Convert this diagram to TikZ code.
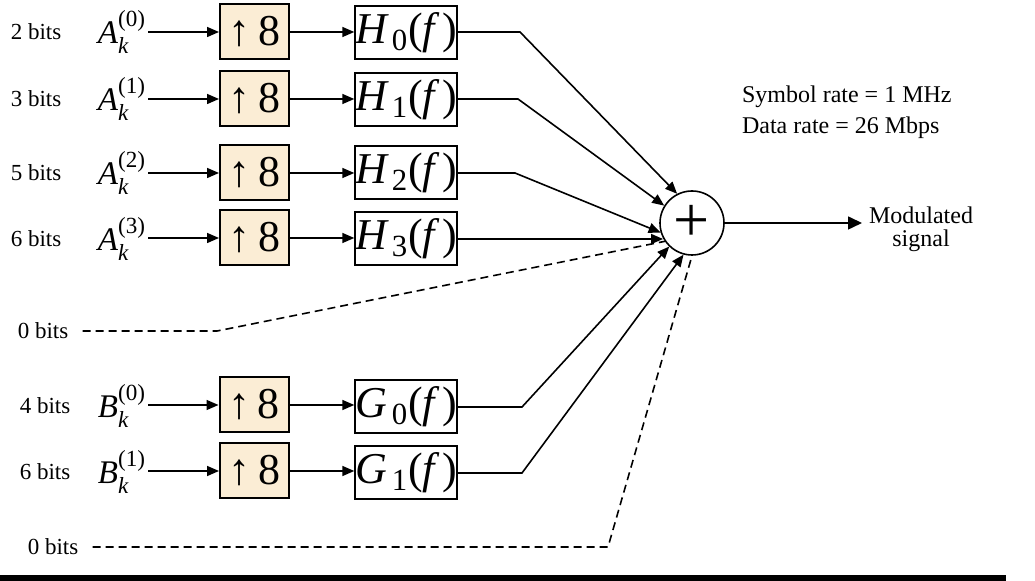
\documentclass[tikz,border=0pt]{standalone}
\usepackage{amsmath}
\usepackage{fontspec}
\setmainfont{Liberation Serif}
\usetikzlibrary{arrows.meta}

\definecolor{upfill}{RGB}{251,237,213}
\tikzset{
  bitslbl/.style={font=\fontsize{11.5}{13}\selectfont, inner sep=1pt},
  symlbl/.style={font=\fontsize{16.5}{18}\selectfont, inner sep=1pt},
  upbox/.style={draw, line width=1pt, fill=upfill, minimum width=34.5pt, minimum height=27.5pt, inner sep=0pt, font=\fontsize{22}{22}\selectfont},
  filtbox/.style={draw, line width=1pt, minimum width=49pt, minimum height=26.5pt, inner sep=0pt, font=\fontsize{22}{22}\selectfont},
  sig/.style={line width=0.8pt, -{Triangle[length=6pt,width=5pt]}},
  wire/.style={line width=0.8pt},
  nobits/.style={line width=0.8pt, dash pattern=on 4pt off 2.5pt},
}
\newcommand{\insym}[2]{$\textit{#1}_{\textit{k}}^{\textup{(#2)}}$}
\newcommand{\filt}[2]{$\textit{#1}_{\,\textup{#2}}\textup{(}\textit{f}\,\textup{)}$}

\begin{document}
\begin{tikzpicture}[x=0.5pt,y=-0.5pt]
\useasboundingbox (0,0) rectangle (1035,581);

% Summing node and output
\node[draw, circle, line width=0.8pt, minimum size=32pt, inner sep=0pt, font=\fontsize{32}{32}\selectfont] (sum) at (692,223) {+};
\node[font=\fontsize{12}{11.5}\selectfont, align=center, anchor=west] (outtxt) at (862,229) {Modulated\\signal};
\draw[line width=0.8pt, -{Triangle[length=7pt,width=6.5pt]}] (sum.east) -- (sum.east -| outtxt.west);
\node[font=\fontsize{12}{15.5}\selectfont, align=left, anchor=west] (rates) at (735,112) {Symbol rate = 1 MHz\\Data rate = 26 Mbps};

% Branch A0
\node[bitslbl] (bitsA0) at (36,32) {2 bits};
\node[symlbl] (symA0) at (122,32) {\insym{A}{0}};
\node[upbox] (upA0) at (254.5,32) {↑\,8};
\node[filtbox] (filtA0) at (406,33) {\filt{H}{0}};
\coordinate (kA0) at (520,32);
\draw[sig] (symA0.east |- upA0) -- (upA0.west);
\draw[sig] (upA0.east) -- (upA0.east -| filtA0.west);
\draw[sig] (filtA0.east |- kA0) -- (kA0) -- (sum.117);

% Branch A1
\node[bitslbl] (bitsA1) at (36,99) {3 bits};
\node[symlbl] (symA1) at (122,99) {\insym{A}{1}};
\node[upbox] (upA1) at (254.5,99) {↑\,8};
\node[filtbox] (filtA1) at (406,100) {\filt{H}{1}};
\coordinate (kA1) at (518,99);
\draw[sig] (symA1.east |- upA1) -- (upA1.west);
\draw[sig] (upA1.east) -- (upA1.east -| filtA1.west);
\draw[sig] (filtA1.east |- kA1) -- (kA1) -- (sum.148);

% Branch A2
\node[bitslbl] (bitsA2) at (36,173) {5 bits};
\node[symlbl] (symA2) at (122,173) {\insym{A}{2}};
\node[upbox] (upA2) at (254.5,173) {↑\,8};
\node[filtbox] (filtA2) at (406,173) {\filt{H}{2}};
\coordinate (kA2) at (515,173);
\draw[sig] (symA2.east |- upA2) -- (upA2.west);
\draw[sig] (upA2.east) -- (upA2.east -| filtA2.west);
\draw[sig] (filtA2.east |- kA2) -- (kA2) -- (sum.197);

% Branch A3
\node[bitslbl] (bitsA3) at (36,239) {6 bits};
\node[symlbl] (symA3) at (122,239) {\insym{A}{3}};
\node[upbox] (upA3) at (254.5,238) {↑\,8};
\node[filtbox] (filtA3) at (406,239) {\filt{H}{3}};
\draw[sig] (symA3.east |- upA3) -- (upA3.west);
\draw[sig] (upA3.east) -- (upA3.east -| filtA3.west);
\draw[sig] (filtA3.east) -- (filtA3.east -| sum.208);

% Unused branch (top)
\node[bitslbl] (zeroA) at (43,331) {0 bits};
\coordinate (kZ0) at (217,331);
\draw[nobits] ([xshift=6pt]zeroA.east) -- (kZ0) -- (sum.214);

% Branch B0
\node[bitslbl] (bitsB0) at (45,406) {4 bits};
\node[symlbl] (symB0) at (122,406) {\insym{B}{0}};
\node[upbox] (upB0) at (254,405) {↑\,8};
\node[filtbox] (filtB0) at (406,407) {\filt{G}{0}};
\coordinate (kB0) at (522,407);
\draw[sig] (symB0.east |- upB0) -- (upB0.west);
\draw[sig] (upB0.east) -- (upB0.east -| filtB0.west);
\draw[sig] (filtB0.east |- kB0) -- (kB0) -- (sum.226);

% Branch B1
\node[bitslbl] (bitsB1) at (45,472) {6 bits};
\node[symlbl] (symB1) at (122,472) {\insym{B}{1}};
\node[upbox] (upB1) at (254.5,471) {↑\,8};
\node[filtbox] (filtB1) at (406,473) {\filt{G}{1}};
\coordinate (kB1) at (522,473);
\draw[sig] (symB1.east |- upB1) -- (upB1.west);
\draw[sig] (upB1.east) -- (upB1.east -| filtB1.west);
\draw[sig] (filtB1.east |- kB1) -- (kB1) -- (sum.255);

% Unused branch (bottom)
\node[bitslbl] (zeroB) at (53,547) {0 bits};
\coordinate (kZ1) at (608,547);
\draw[nobits] ([xshift=6pt]zeroB.east) -- (kZ1) -- (sum.south);

% Bottom rule
\fill (0,575) rectangle (1006,581);
\end{tikzpicture}
\end{document}
